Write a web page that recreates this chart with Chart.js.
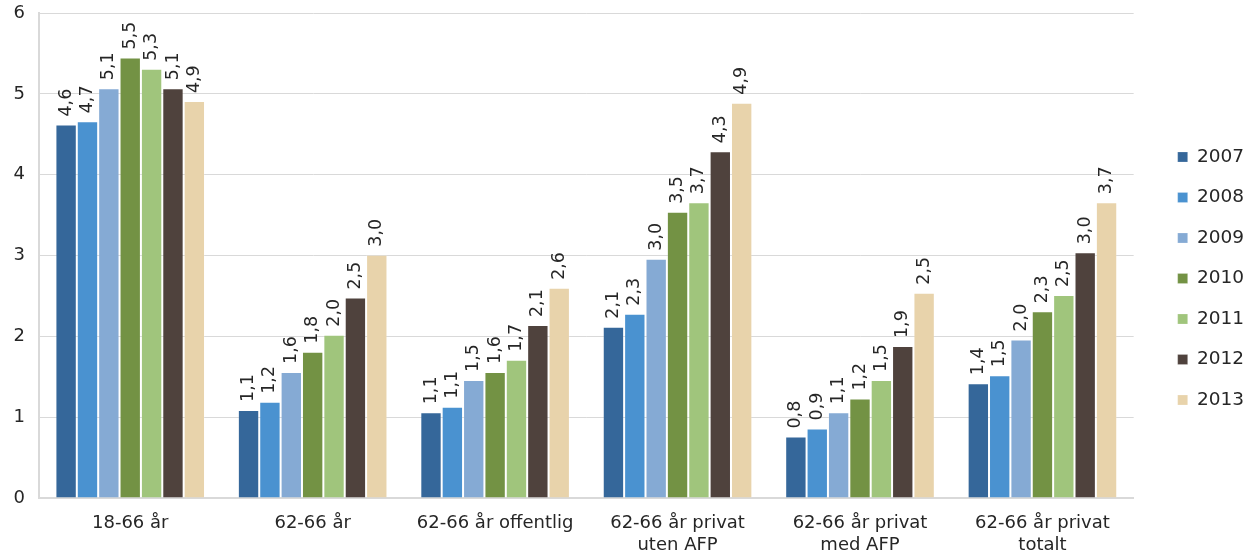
<!DOCTYPE html>
<html>
<head>
<meta charset="utf-8">
<script src="https://cdn.jsdelivr.net/npm/chart.js@4"></script>
<style>
  html, body { margin: 0; padding: 0; background: #fff; }
  #wrap { width: 1250px; height: 555px; }
</style>
</head>
<body>
<div id="wrap"><canvas id="chart"></canvas></div>
<script>
// categories and tick labels
const categories = [
  "18-66 år",
  "62-66 år",
  "62-66 år offentlig",
  ["62-66 år privat", "uten AFP"],
  ["62-66 år privat", "med AFP"],
  ["62-66 år privat", "totalt"]
];
const years = ["2007", "2008", "2009", "2010", "2011", "2012", "2013"];
const yTicks = [0, 1, 2, 3, 4, 5, 6];

// values per year, one entry per category
const v2007 = [4.62, 1.09, 1.06, 2.12, 0.76, 1.42];
const v2008 = [4.66, 1.19, 1.13, 2.28, 0.86, 1.52];
const v2009 = [5.07, 1.56, 1.46, 2.96, 1.06, 1.96];
const v2010 = [5.45, 1.81, 1.56, 3.54, 1.23, 2.31];
const v2011 = [5.31, 2.02, 1.71, 3.66, 1.46, 2.51];
const v2012 = [5.07, 2.48, 2.14, 4.29, 1.88, 3.04];
const v2013 = [4.91, 3.01, 2.60, 4.89, 2.54, 3.66];

const colors = ["#35679a", "#4a92d0", "#85aad4", "#739244", "#a0c57c", "#4f423d", "#e8d3ab"];
const series = [v2007, v2008, v2009, v2010, v2011, v2012, v2013];

const FONT = "'DejaVu Sans', Verdana, sans-serif";
const TEXT = "#262626";

// rotated value labels above each bar
const valueLabels = {
  id: "valueLabels",
  afterDatasetsDraw(chart) {
    const ctx = chart.ctx;
    ctx.save();
    ctx.font = "17.5px " + FONT;
    ctx.fillStyle = TEXT;
    ctx.textAlign = "left";
    ctx.textBaseline = "middle";
    chart.data.datasets.forEach((ds, i) => {
      const meta = chart.getDatasetMeta(i);
      meta.data.forEach((bar, j) => {
        const txt = ds.data[j].toFixed(1).replace(".", ",");
        ctx.save();
        ctx.translate(bar.x, bar.y - 8);
        ctx.rotate(-Math.PI / 2);
        ctx.fillText(txt, 0, 0);
        ctx.restore();
      });
    });
    ctx.restore();
  }
};

// give the legend a wider gap from the plot area
const legendGap = {
  id: "legendGap",
  beforeInit(chart) {
    const fit = chart.legend.fit;
    chart.legend.fit = function () {
      fit.call(this);
      this.width += 18;
    };
  },
  afterLayout(chart) {
    chart.legend.left += 22;
    chart.legend.right += 22;
  }
};

new Chart(document.getElementById("chart"), {
  type: "bar",
  data: {
    labels: categories,
    datasets: series.map((d, i) => ({
      label: years[i],
      data: d,
      backgroundColor: colors[i],
      borderColor: "rgba(255,255,255,0.2)",
      borderWidth: 1,
      categoryPercentage: 0.82,
      barPercentage: 1.0
    }))
  },
  options: {
    responsive: true,
    maintainAspectRatio: false,
    animation: false,
    layout: { padding: { top: 2, right: 0, left: 0, bottom: 0 } },
    plugins: {
      tooltip: { enabled: false },
      legend: {
        position: "right",
        labels: {
          boxWidth: 10,
          boxHeight: 10,
          padding: 22,
          color: TEXT,
          font: { family: FONT, size: 18.5 }
        }
      }
    },
    scales: {
      x: {
        afterFit: s => { s.height = 57; },
        grid: { display: false, drawTicks: false },
        border: { color: "#d9d9d9", width: 2 },
        ticks: {
          color: TEXT,
          font: { family: FONT, size: 18, lineHeight: 1.25 },
          padding: 14,
          maxRotation: 0,
          autoSkip: false
        }
      },
      y: {
        min: 0,
        max: 6,
        afterFit: s => { s.width = 39; s.paddingTop = 13; },
        afterBuildTicks: axis => { axis.ticks = yTicks.map(v => ({ value: v })); },
        grid: { color: "#d9d9d9", lineWidth: 1, drawTicks: false },
        border: { color: "#d9d9d9", width: 2 },
        ticks: {
          color: TEXT,
          font: { family: FONT, size: 18 },
          padding: 14
        }
      }
    }
  },
  plugins: [valueLabels, legendGap]
});
</script>
</body>
</html>
